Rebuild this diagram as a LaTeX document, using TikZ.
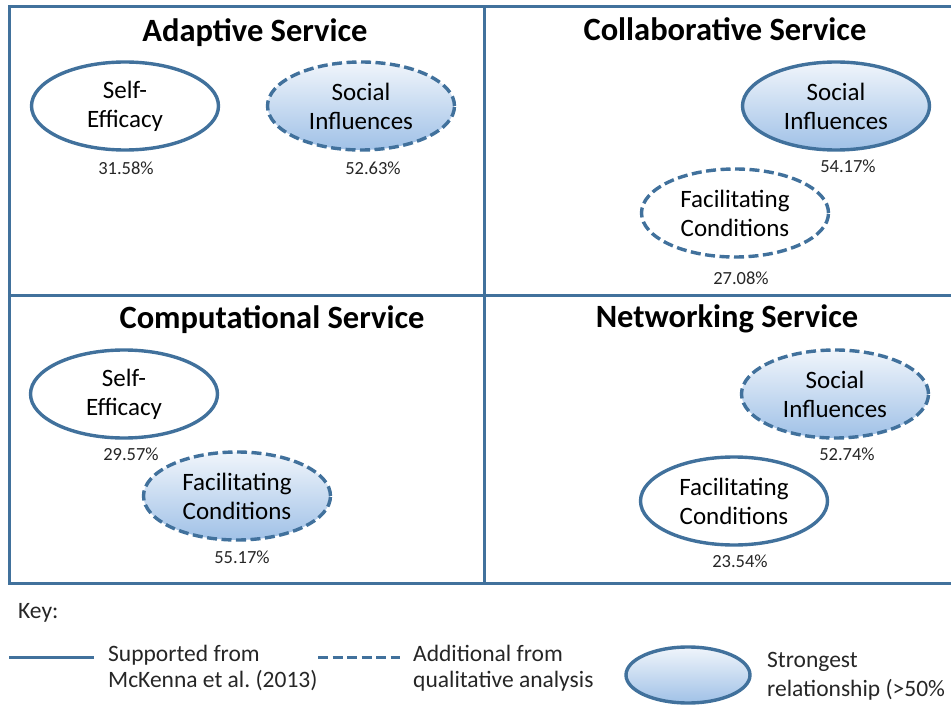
\documentclass[tikz,border=0pt]{standalone}
\usepackage{fontspec}
\setmainfont{Carlito}
\usepackage{xcolor}
\usetikzlibrary{shapes.geometric,positioning}
\definecolor{lineblue}{RGB}{65,113,156}
\definecolor{shadetop}{RGB}{240,245,251}
\definecolor{shadebot}{RGB}{160,193,231}
\definecolor{inkgray}{RGB}{38,38,38}
\tikzset{
  frame/.style={draw=lineblue,line width=3pt},
  factor/.style={ellipse,draw=lineblue,line width=3.4pt,minimum width=187pt,minimum height=88pt,
    inner sep=0pt,align=center,text=black,font=\fontsize{25}{29}\selectfont},
  strong/.style={top color=shadetop,bottom color=shadebot},
  extra/.style={dash pattern=on 10pt off 4.5pt},
  pct/.style={anchor=base,text=inkgray,font=\fontsize{18.5}{22}\selectfont},
  title/.style={anchor=base,font=\fontsize{32.5}{38}\selectfont\bfseries},
  keytext/.style={anchor=west,align=left,inner sep=0pt,text=inkgray,font=\fontsize{23.5}{26}\selectfont},
}
\begin{document}
\begin{tikzpicture}[x=1pt,y=-1pt]
\useasboundingbox (0,0) rectangle (951,706);
% quadrants
\draw[frame] (9,7) rectangle (975,583);
\draw[frame] (9,295) -- (975,295);
\draw[frame] (484,7) -- (484,583);
% titles
\node[title] (tAd) at (255,42) {Adaptive Service};
\node[title] (tCo) at (725,41) {Collaborative Service};
\node[title] (tCp) at (272,328) {Computational Service};
\node[title] (tNe) at (727,327) {Networking Service};
% adaptive
\node[factor] (adSE) at (125,106) {Self-\\Efficacy};
\node[factor,strong,extra] (adSI) at (361,106) {Social\\Influences};
\node[pct] (adSEp) at (126,175) {31.58\%};
\node[pct] (adSIp) at (373,175) {52.63\%};
% collaborative
\node[factor,strong] (coSI) at (836,106) {Social\\Influences};
\node[factor,extra] (coFC) at (735,213) {Facilitating\\Conditions};
\node[pct] (coSIp) at (848,172) {54.17\%};
\node[pct] (coFCp) at (741,284) {27.08\%};
% computational
\node[factor] (cpSE) at (124,394) {Self-\\Efficacy};
\node[factor,strong,extra] (cpFC) at (237,496) {Facilitating\\Conditions};
\node[pct] (cpSEp) at (131,460) {29.57\%};
\node[pct] (cpFCp) at (242,563) {55.17\%};
% networking
\node[factor,strong,extra] (neSI) at (835,394) {Social\\Influences};
\node[factor] (neFC) at (734,501) {Facilitating\\Conditions};
\node[pct] (neSIp) at (847,460) {52.74\%};
\node[pct] (neFCp) at (740,567) {23.54\%};
% key
\node[keytext,anchor=base west] (key) at (18,618) {Key:};
\coordinate (solidA) at (9,657);
\coordinate (solidB) at (94,657);
\coordinate (dashA) at (318,657);
\coordinate (dashB) at (400,657);
\draw[frame] (solidA) -- (solidB);
\draw[frame,extra] (dashA) -- (dashB);
\node[keytext] (keySolid) at (108,668) {Supported from\\McKenna et al.\ (2013)};
\node[keytext] (keyDash) at (413,668) {Additional from\\qualitative analysis};
\node[factor,strong,minimum width=124pt,minimum height=56pt] (keyOval) at (688,675) {};
\node[keytext,font=\fontsize{23.5}{29}\selectfont] (keyStrong) at (767,676) {Strongest\\relationship (>50\%};
\end{tikzpicture}
\end{document}
